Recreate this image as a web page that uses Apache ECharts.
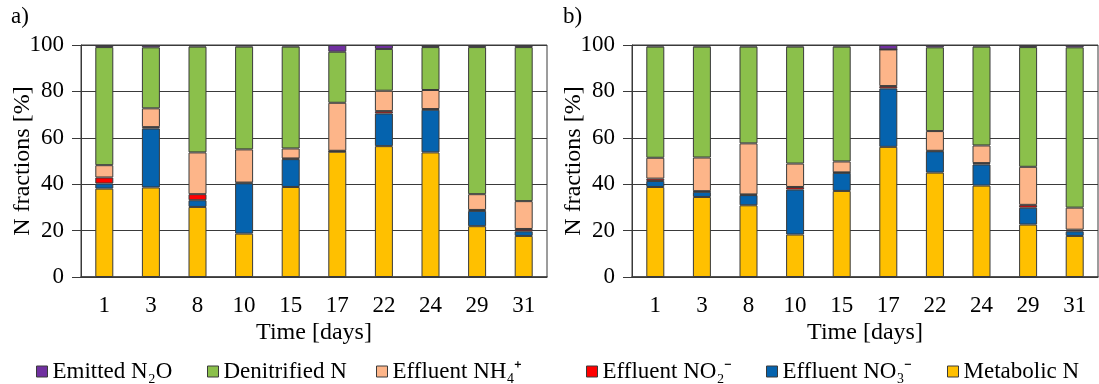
<!DOCTYPE html>
<html>
<head>
  <meta charset="utf-8" />
  <title>N fractions</title>
  <script src="https://cdn.jsdelivr.net/npm/echarts@6/dist/echarts.min.js"></script>
</head>
<body style="margin:0;">
  <div id="chart" style="width:1099px;height:384px;"></div>
  <script type="text/javascript">
    // Inline data (values in % of total N)
    let days = ['1', '3', '8', '10', '15', '17', '22', '24', '29', '31'];
    let names = ['Emitted N\u2082O', 'Denitrified N', 'Effluent NH\u2084\u207A',
      'Effluent NO\u2082\u207B', 'Effluent NO\u2083\u207B', 'Metabolic N'];
    let colors = ['#7030A0', '#8BC04B', '#FDB589', '#FF0000', '#0563AE', '#FFC000'];

    // panel a)
    let metabolicA = [38.1, 38.6, 30.2, 18.7, 38.8, 54.0, 56.4, 53.7, 21.9, 17.7];
    let no3A = [2.2, 25.4, 2.9, 21.7, 12.0, 0.2, 14.1, 18.4, 6.6, 2.0];
    let no2A = [2.6, 0.6, 2.6, 0.3, 0.3, 0.2, 1.0, 0.3, 0.4, 1.0];
    let nh4A = [5.3, 8.1, 18.0, 14.3, 4.3, 20.7, 8.8, 8.2, 6.8, 12.0];
    let denitA = [50.9, 26.3, 45.6, 44.3, 43.9, 22.0, 18.0, 18.5, 63.4, 66.4];
    let n2oA = [0.9, 1.0, 0.7, 0.7, 0.7, 2.9, 1.7, 0.9, 0.9, 0.9];

    // panel b)
    let metabolicB = [38.8, 34.5, 30.9, 18.3, 37.1, 56.1, 45.0, 39.4, 22.6, 17.7];
    let no3B = [2.6, 2.2, 4.4, 19.4, 7.8, 25.2, 9.2, 9.1, 7.3, 2.0];
    let no2B = [1.0, 0.3, 0.3, 1.1, 0.2, 1.0, 0.2, 0.6, 1.2, 0.7];
    let nh4B = [9.0, 14.5, 22.0, 10.1, 4.7, 15.8, 8.5, 7.6, 16.4, 9.5];
    let denitB = [47.9, 47.8, 41.7, 50.4, 49.5, 0.0, 36.1, 42.6, 51.6, 69.1];
    let n2oB = [0.7, 0.7, 0.7, 0.7, 0.7, 1.9, 1.0, 0.7, 0.9, 1.0];

    let font = '"Liberation Serif", "Times New Roman", serif';
    let chart = echarts.init(document.getElementById('chart'));

    // stack order bottom -> top
    let stackA = [metabolicA, no3A, no2A, nh4A, denitA, n2oA];
    let stackB = [metabolicB, no3B, no2B, nh4B, denitB, n2oB];
    let orderNames = [5, 4, 3, 2, 1, 0];

    function makeSeries(stack, idx) {
      return stack.map(function (vals, i) {
        let n = orderNames[i];
        return {
          name: names[n],
          type: 'bar',
          stack: 'p' + idx,
          xAxisIndex: idx,
          yAxisIndex: idx,
          barWidth: 18,
          data: vals,
          itemStyle: { color: colors[n], borderColor: '#3a3a3a', borderWidth: 1 },
          emphasis: { disabled: true }
        };
      });
    }

    function xAx(idx) {
      return {
        gridIndex: idx,
        type: 'category',
        data: days,
        axisTick: { show: false },
        axisLine: { lineStyle: { color: '#3a3a3a', width: 1.5 } },
        axisLabel: { color: '#000', fontFamily: font, fontSize: 23, margin: 17 },
        name: 'Time [days]',
        nameLocation: 'middle',
        nameMoveOverlap: false,
        nameGap: 44,
        nameTextStyle: { color: '#000', fontFamily: font, fontSize: 24 }
      };
    }

    function yAx(idx) {
      return {
        gridIndex: idx,
        type: 'value',
        min: 0,
        max: 100,
        interval: 20,
        axisLine: { show: true, lineStyle: { color: '#3a3a3a' } },
        axisTick: { show: true, length: 9, lineStyle: { color: '#3a3a3a' } },
        splitLine: { lineStyle: { color: '#3a3a3a', width: 1 } },
        axisLabel: { color: '#000', fontFamily: font, fontSize: 23, margin: 17 },
        name: 'N fractions [%]',
        nameLocation: 'middle',
        nameMoveOverlap: false,
        nameGap: 46,
        nameRotate: 90,
        nameTextStyle: { color: '#000', fontFamily: font, fontSize: 24 }
      };
    }

    let legendLefts = [31, 202, 371, 581, 761, 942];
    let legends = names.map(function (n, i) {
      return {
        data: [n],
        left: legendLefts[i],
        top: 355,
        icon: 'rect',
        itemWidth: 11,
        itemHeight: 11,
        itemGap: 4,
        selectedMode: false,
        textStyle: { color: '#000', fontFamily: font, fontSize: 23 },
        itemStyle: { borderColor: '#3a3a3a', borderWidth: 1 }
      };
    });

    let option = {
      animation: false,
      backgroundColor: '#fff',
      title: [
        { text: 'a)', left: 6, top: 0, textStyle: { color: '#000', fontFamily: font, fontSize: 23, fontWeight: 'normal' } },
        { text: 'b)', left: 558, top: 0, textStyle: { color: '#000', fontFamily: font, fontSize: 23, fontWeight: 'normal' } }
      ],
      legend: legends,
      grid: [
        { left: 81, right: 552, top: 45, bottom: 107, show: true, borderColor: '#3a3a3a', borderWidth: 1 },
        { left: 632, right: 1, top: 45, bottom: 107, show: true, borderColor: '#3a3a3a', borderWidth: 1 }
      ],
      xAxis: [xAx(0), xAx(1)],
      yAxis: [yAx(0), yAx(1)],
      series: makeSeries(stackA, 0).concat(makeSeries(stackB, 1))
    };

    chart.setOption(option);
  </script>
</body>
</html>
